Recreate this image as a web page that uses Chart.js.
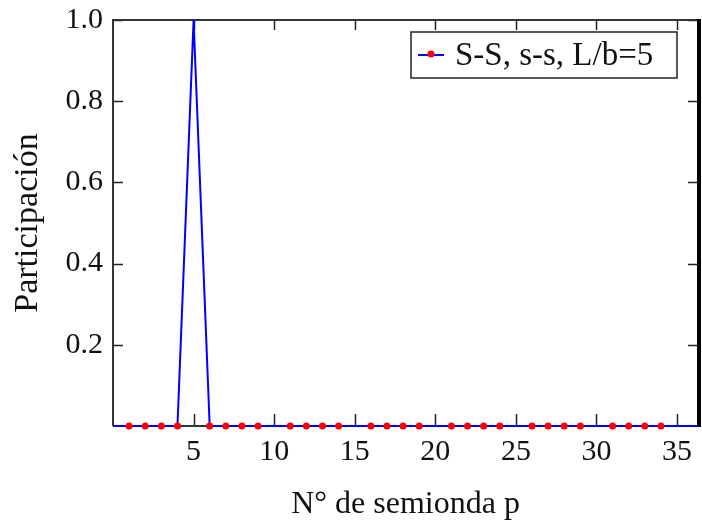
<!DOCTYPE html>
<html>
<head>
<meta charset="utf-8">
<script src="https://cdn.jsdelivr.net/npm/chart.js@4/dist/chart.umd.min.js"></script>
<style>
    html, body { margin: 0; padding: 0; background: #fff; }
    #wrap { width: 702px; height: 526px; }
</style>
</head>
<body>
<div id="wrap"><canvas id="partChart"></canvas></div>
<script>
// Half-wave number p and its participation
const semiondas = [0, 1, 2, 3, 4, 5, 6, 7, 8, 9, 10, 11, 12, 13, 14, 15, 16, 17, 18,
    19, 20, 21, 22, 23, 24, 25, 26, 27, 28, 29, 30, 31, 32, 33, 34, 35, 36, 37];
const participacion = [0, 0, 0, 0, 0, 1, 0, 0, 0, 0, 0, 0, 0, 0, 0, 0, 0, 0, 0,
    0, 0, 0, 0, 0, 0, 0, 0, 0, 0, 0, 0, 0, 0, 0, 0, 0, 0, 0];
// Half-waves that carry a marker
const marcadas = [1, 2, 3, 4, 6, 7, 8, 9, 11, 12, 13, 14, 16, 17, 18, 19,
    21, 22, 23, 24, 26, 27, 28, 29, 31, 32, 33, 34];
const xTicks = [5, 10, 15, 20, 25, 30, 35];
const yTicks = [0.2, 0.4, 0.6, 0.8, 1.0];
const serieLabel = 'S-S, s-s, L/b=5';

const serif = "'Liberation Serif', 'DejaVu Serif', serif";

// Frame, inward ticks and the boxed legend
const framePlugin = {
    id: 'frame',
    beforeDatasetsDraw(chart) {
        const { ctx, chartArea: a, scales } = chart;
        ctx.save();
        ctx.strokeStyle = '#222';
        ctx.lineWidth = 1.5;
        ctx.beginPath();
        xTicks.forEach(v => {
            const px = Math.round(scales.x.getPixelForValue(v)) + 0.5;
            ctx.moveTo(px, a.bottom); ctx.lineTo(px, a.bottom - 12);
            ctx.moveTo(px, a.top); ctx.lineTo(px, a.top + 10);
        });
        yTicks.forEach(v => {
            const py = Math.round(scales.y.getPixelForValue(v)) + 0.5;
            ctx.moveTo(a.left, py); ctx.lineTo(a.left + 10, py);
            ctx.moveTo(a.right, py); ctx.lineTo(a.right - 10, py);
        });
        ctx.stroke();

        ctx.lineWidth = 2;
        ctx.strokeStyle = '#333';
        ctx.beginPath();
        ctx.moveTo(a.left, a.bottom);
        ctx.lineTo(a.left, a.top);
        ctx.lineTo(a.right, a.top);
        ctx.moveTo(a.left, a.bottom);
        ctx.lineTo(a.right, a.bottom);
        ctx.stroke();
        ctx.lineWidth = 4;
        ctx.strokeStyle = '#000';
        ctx.beginPath();
        ctx.moveTo(a.right + 1, a.top - 1);
        ctx.lineTo(a.right + 1, a.bottom + 1);
        ctx.stroke();
        ctx.restore();
    },
    afterDraw(chart) {
        const { ctx } = chart;
        const ds = chart.data.datasets[0];
        const box = { x: 411, y: 32, w: 266, h: 46 };
        ctx.save();
        ctx.fillStyle = '#fff';
        ctx.fillRect(box.x, box.y, box.w, box.h);
        ctx.strokeStyle = '#222';
        ctx.lineWidth = 1.5;
        ctx.strokeRect(box.x, box.y, box.w, box.h);
        const cy = box.y + 23;
        ctx.strokeStyle = ds.borderColor;
        ctx.lineWidth = 2;
        ctx.beginPath();
        ctx.moveTo(box.x + 7, cy);
        ctx.lineTo(box.x + 33, cy);
        ctx.stroke();
        ctx.fillStyle = ds.pointBackgroundColor;
        ctx.beginPath();
        ctx.arc(box.x + 20, cy - 1, 3.5, 0, Math.PI * 2);
        ctx.fill();
        ctx.fillStyle = '#111';
        ctx.font = '33px ' + serif;
        ctx.textBaseline = 'alphabetic';
        ctx.fillText(ds.label, box.x + 44, box.y + 33);
        ctx.restore();
    }
};

new Chart(document.getElementById('partChart'), {
    type: 'line',
    data: {
        datasets: [{
            label: serieLabel,
            data: semiondas.map((x, i) => ({ x: x, y: participacion[i] })),
            borderColor: '#0000ff',
            borderWidth: 2,
            pointBackgroundColor: '#ff0000',
            pointBorderColor: '#ff0000',
            pointBorderWidth: 0,
            pointRadius: ctx => marcadas.includes(semiondas[ctx.dataIndex]) ? 3.5 : 0,
            tension: 0,
            clip: { left: 0, right: 0, top: 4, bottom: 4 }
        }]
    },
    options: {
        responsive: true,
        maintainAspectRatio: false,
        animation: false,
        events: [],
        layout: { padding: { left: 0, right: 4, top: 20, bottom: 0 } },
        plugins: {
            legend: { display: false },
            tooltip: { enabled: false }
        },
        scales: {
            x: {
                type: 'linear',
                min: 0,
                max: 36.3,
                afterBuildTicks: s => { s.ticks = xTicks.map(v => ({ value: v })); },
                afterFit: s => { s.height = 100; s.paddingLeft = 0; s.paddingRight = 0; },
                grid: { display: false, drawTicks: false },
                border: { display: false },
                ticks: {
                    color: '#111',
                    font: { family: serif, size: 30 },
                    padding: 8,
                    maxRotation: 0,
                    autoSkip: false
                },
                title: {
                    display: true,
                    text: 'N° de semionda p',
                    color: '#111',
                    font: { family: serif, size: 32 },
                    padding: { top: 0, bottom: 2 }
                }
            },
            y: {
                min: 0,
                max: 1,
                afterBuildTicks: s => { s.ticks = yTicks.map(v => ({ value: v })); },
                afterFit: s => { s.width = 113; s.paddingTop = 0; s.paddingBottom = 0; },
                grid: { display: false, drawTicks: false },
                border: { display: false },
                ticks: {
                    color: '#111',
                    font: { family: serif, size: 30 },
                    padding: 10,
                    callback: v => v.toFixed(1)
                },
                title: {
                    display: true,
                    text: 'Participación',
                    color: '#111',
                    font: { family: serif, size: 34 },
                    padding: { top: 8, bottom: 0 }
                }
            }
        }
    },
    plugins: [framePlugin]
});
</script>
</body>
</html>
